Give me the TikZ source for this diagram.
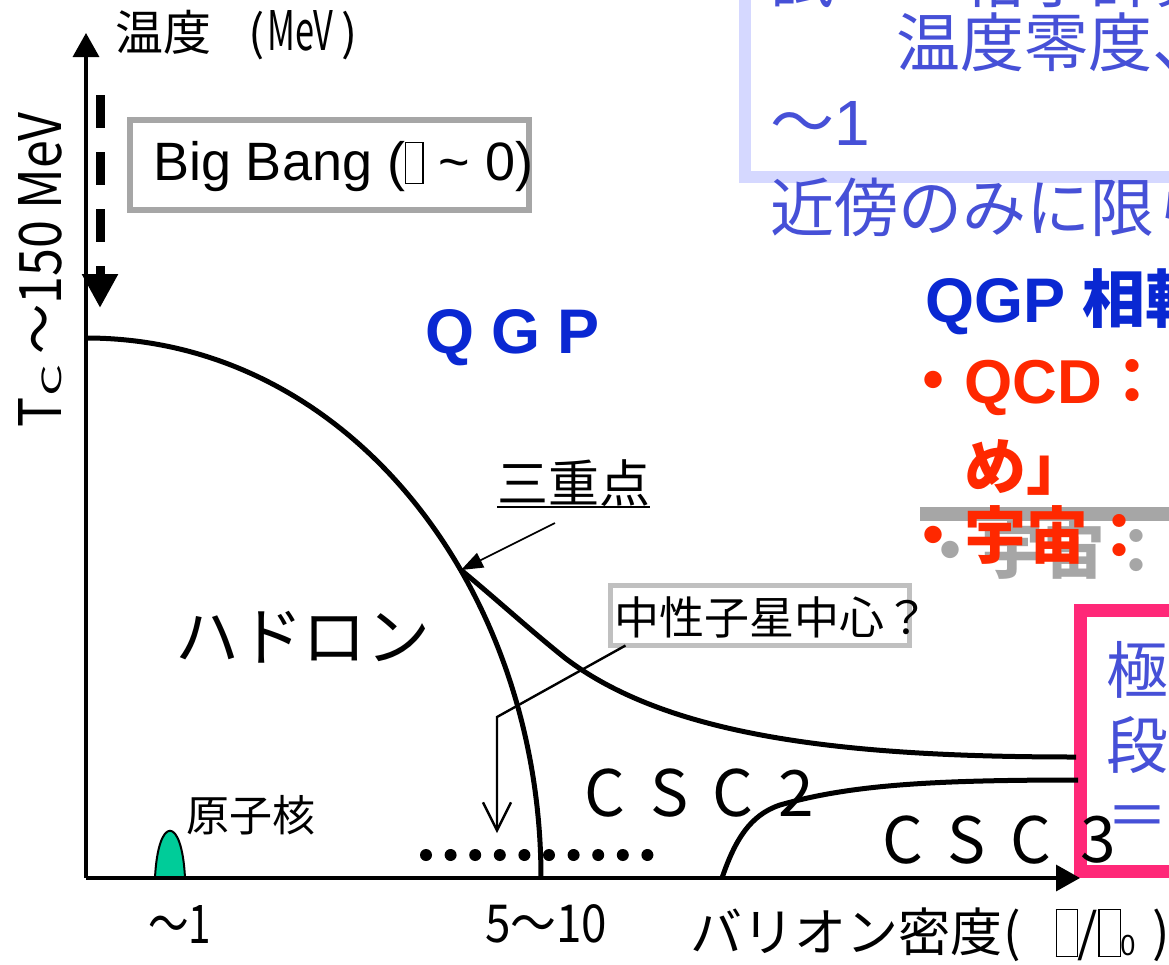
\documentclass[tikz,border=0pt]{standalone}
\usepackage{fontspec}
\usepackage{graphicx}
\setmainfont{Liberation Sans}
\newfontfamily\jp{Noto Sans CJK JP}
\usetikzlibrary{arrows.meta,calc}
\definecolor{qblue}{RGB}{10,40,210}
\definecolor{tblue}{RGB}{70,80,215}
\definecolor{qred}{RGB}{255,40,0}
\definecolor{lav}{RGB}{213,216,255}
\definecolor{hpink}{RGB}{255,40,120}
\definecolor{bgray}{RGB}{166,166,166}
\definecolor{ngray}{RGB}{192,192,192}
\definecolor{nucl}{RGB}{0,204,153}
\newcommand\fsz[1]{\fontsize{#1}{#1}\selectfont}
\newcommand\tofu[3]{\raisebox{-#3}{\fboxsep=0pt\fboxrule=0.6pt\fbox{\rule{0pt}{#2}\hspace{#1}}}}
\begin{document}
\begin{tikzpicture}[x=0.5pt,y=-0.5pt,
  txt/.style={inner sep=0pt, outer sep=0pt},
  curve/.style={line width=2.5pt, line join=round},
  axis/.style={line width=1.7pt, -{Triangle[length=12pt,width=13pt]}},
]
\path[use as bounding box] (0,0) rectangle (1169,965);
\clip (0,0) rectangle (1169,965);
\fill[white] (0,0) rectangle (1169,965);

% ---- top right lavender box
\draw[lav, line width=6pt] (744.5,-20) -- (744.5,177) -- (1200,177);
\node[txt, anchor=west, text=tblue, font=\jp\fsz{32}] (l1top) at (770,-22) {試　　格子計算は};
\node[txt, anchor=west, text=tblue, font=\jp\fsz{32}] (l2) at (896,42) {温度零度、};
\node[txt, anchor=west, text=tblue, font=\fsz{32}] (l3) at (770,123) {{\jp ～}1};
\node[txt, anchor=west, text=tblue, font=\jp\fsz{32}] (l4) at (770,207) {近傍のみに限られる};

% ---- right side texts
\node[txt, anchor=base west, text=qblue, font=\bfseries\fsz{31.5}] (qgpt) at (925,322) {QGP {\jp 相転移}};
\node[txt, anchor=base west, text=qred, font=\bfseries\fsz{31}] (qcd) at (902,403) {{\jp ・}QCD{\jp ：}};
\node[txt, anchor=west, text=qred, font=\bfseries\jp\fsz{31}] (me) at (964,467) {め」};
\draw[bgray, line width=7pt] (920,514) -- (1200,514);
\node[txt, anchor=west, text=bgray, font=\bfseries\jp\fsz{31}] (uchug) at (919,550) {・宇宙：};
\node[txt, anchor=west, text=qred, font=\bfseries\jp\fsz{31}] (uchur) at (902,535) {・宇宙：};

% ---- pink box
\draw[hpink, line width=6.5pt] (1200,610) -- (1080.5,610) -- (1080.5,871) -- (1200,871);
\node[txt, anchor=west, text=tblue, font=\jp\fsz{31}] (p1) at (1106,670) {極};
\node[txt, anchor=west, text=tblue, font=\jp\fsz{31}] (p2) at (1106,745) {段};
\node[txt, anchor=west, text=tblue, font=\jp\fsz{31}] (p3) at (1106,822) {＝};

% ---- nucleus bump
\draw[line width=1pt, fill=nucl] (155,878) .. controls (158,815) and (182,815) .. (185,878) -- cycle;

% ---- curves
\coordinate (tcp) at (86,338);
\coordinate (hend) at (541,878);
\coordinate (trip) at (461,570);
\draw[curve] (tcp) .. controls (350,338) and (541,590) .. (hend);
\draw[curve] (trip) .. controls (495,598) and (530,630) .. (565,658) .. controls (670,738) and (850,757) .. (1076,757);
\draw[curve] (722,878) .. controls (735,840) and (750,815) .. (780,805) .. controls (850,785) and (930,780) .. (1078,780);

% ---- dots
\foreach \i in {0,...,9} \fill (426+24.6*\i,855) circle[radius=3pt];

% ---- axes
\coordinate (O) at (86,878);
\coordinate (ytop) at (86,33);
\coordinate (xend) at (1080,878);
\draw[axis] (O) -- (ytop);
\draw[axis] (O) -- (xend);

% ---- dashed big bang arrow
\coordinate (bbs) at (100,95);
\coordinate (bbe) at (100,308);
\draw[line width=4.5pt, dash pattern=on 16.5pt off 12pt, -{Triangle[length=17pt,width=17pt]}] (bbs) -- (bbe);

% ---- Big Bang box
\node[txt, draw=bgray, line width=3pt, minimum width=199.5pt, minimum height=45pt] (bbbox) at (329.5,165) {};
\node[txt, anchor=base west, font=\fsz{27}] (bbt) at (153,180) {Big Bang (\tofu{8pt}{20pt}{1.5pt} \textasciitilde\ 0)};

% ---- axis labels
\node[txt, anchor=west, font=\jp\fsz{24}] (tlab) at (115,35) {温度\kern19pt(\kern1pt\resizebox{33pt}{20pt}{MeV}\kern4pt)};
\node[txt, rotate=90] (tclab) at (40,270) {\resizebox{157pt}{21.5pt}{\jp\fsz{20}T\scalebox{1}[0.45]{C}\kern4pt～150 MeV}};
\node[txt, anchor=west] (l1) at (148,924) {\resizebox{31.5pt}{19pt}{\jp\fsz{20}～1}};
\node[txt, anchor=west] (l510) at (485,924) {\resizebox{61pt}{19pt}{\jp\fsz{20}5～10}};
\node[txt, anchor=west, font=\jp\fsz{26}] (xlab) at (690,935) {バリオン密度\kern1pt(\kern17pt\tofu{10pt}{23pt}{2pt}/\tofu{10pt}{23pt}{2pt}\raisebox{-2pt}{\fsz{14}0}\kern8pt)};

% ---- region labels
\node[txt, anchor=base west, text=qblue, font=\bfseries\fsz{31.5}] (qgp) at (425,353) {Q G P};
\node[txt, anchor=west, font=\jp\fsz{32}] (had) at (175,637) {ハドロン};
\node[txt, anchor=west, font=\jp\fsz{21.5}] (gen) at (186,815) {原子核};
\foreach \c/\x [count=\i] in {C/605,S/670,C/733,2/796}
  \node[txt, font=\jp\fsz{32}] (csc2-\i) at (\x,793) {\c};
\foreach \c/\x [count=\i] in {C/903,S/967,C/1031,3/1098}
  \node[txt, font=\jp\fsz{32}] (csc3-\i) at (\x,840) {\c};

% ---- triple point
\node[txt, anchor=west, font=\jp\fsz{25.5}] (tp) at (497,483) {三重点};
\draw[line width=1pt] ($(tp.west)+(0,24)$) -- ($(tp.west)+(153,24)$);
\coordinate (tpa) at (555,523);
\draw[line width=0.8pt, -{Triangle[length=11pt,width=8pt]}] (tpa) -- (trip);

% ---- neutron star
\node[txt, draw=ngray, line width=2.5pt, minimum width=149.5pt, minimum height=30pt] (nsbox) at (760,615.5) {};
\node[txt, anchor=west, font=\jp\fsz{22.5}] (nst) at (614,617) {中性子星中心？};
\coordinate (nsk) at (497,717);
\coordinate (nsp) at (497,833);
\draw[line width=1.2pt, -{Straight Barb[length=14pt,width=14pt]}] ($(nsbox.south west)+(15,0)$) -- (nsk) -- (nsp);
\end{tikzpicture}
\end{document}
